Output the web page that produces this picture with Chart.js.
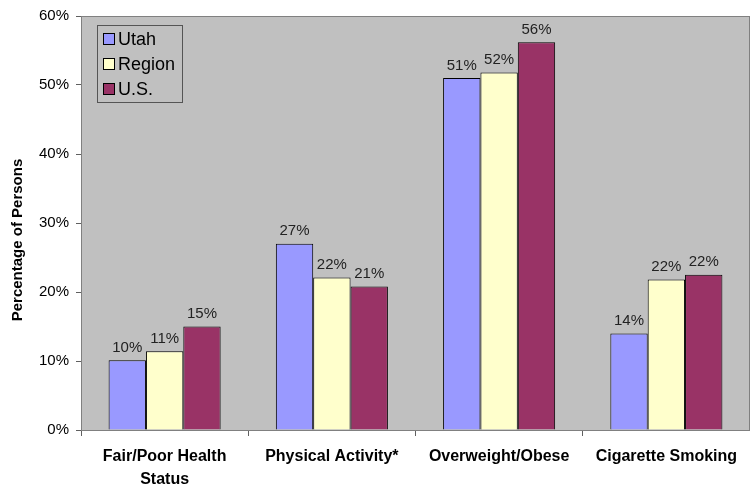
<!DOCTYPE html>
<html>
<head>
<meta charset="utf-8">
<script src="https://cdn.jsdelivr.net/npm/chart.js@4.4.1/dist/chart.umd.min.js"></script>
<style>
  html, body { margin: 0; padding: 0; background: #fff; }
  #wrap { width: 750px; height: 484px; position: relative; }
</style>
</head>
<body>
<div id="wrap"><canvas id="healthChart"></canvas></div>
<script>
// categories and values
const categories = [['Fair/Poor Health', 'Status'], 'Physical Activity*', 'Overweight/Obese', 'Cigarette Smoking'];
const utah = [10.1, 27.0, 51.0, 14.0];
const region = [11.4, 22.1, 51.8, 21.8];
const us = [15.0, 20.8, 56.2, 22.5];
const utahLabels = ['10%', '27%', '51%', '14%'];
const regionLabels = ['11%', '22%', '52%', '22%'];
const usLabels = ['15%', '21%', '56%', '22%'];
const yTicks = [0, 10, 20, 30, 40, 50, 60];
const yTitle = 'Percentage of Persons';

const FONT = 'Liberation Sans, Arial, sans-serif';

// gray plot background + frame
const plotBg = {
  id: 'plotBg',
  beforeDraw(chart) {
    const { ctx, chartArea: a } = chart;
    ctx.save();
    ctx.fillStyle = '#c0c0c0';
    ctx.fillRect(a.left, a.top, a.right - a.left, a.bottom - a.top);
    ctx.strokeStyle = '#808080';
    ctx.lineWidth = 1;
    ctx.strokeRect(a.left + 0.5, a.top + 0.5, a.right - a.left - 1, a.bottom - a.top);
    ctx.restore();
  }
};

// y axis title, sits a bit below the plot middle like the original
const sideTitle = {
  id: 'sideTitle',
  afterDraw(chart) {
    const { ctx, chartArea: a } = chart;
    ctx.save();
    ctx.translate(18, (a.top + a.bottom) / 2 + 17);
    ctx.rotate(-Math.PI / 2);
    ctx.font = 'bold 15px ' + FONT;
    ctx.fillStyle = '#000';
    ctx.textAlign = 'center';
    ctx.textBaseline = 'middle';
    ctx.fillText(yTitle, 0, 0);
    ctx.restore();
  }
};

// value labels above bars
const barLabels = {
  id: 'barLabels',
  afterDatasetsDraw(chart) {
    const { ctx } = chart;
    ctx.save();
    ctx.font = '15px ' + FONT;
    ctx.fillStyle = '#222';
    ctx.textAlign = 'center';
    ctx.textBaseline = 'bottom';
    chart.data.datasets.forEach((ds, i) => {
      chart.getDatasetMeta(i).data.forEach((bar, j) => {
        ctx.fillText(ds.valueLabels[j], bar.x, bar.y - 5);
      });
    });
    ctx.restore();
  }
};

// boxed legend inside the plot, top-left
const boxLegend = {
  id: 'boxLegend',
  afterDraw(chart) {
    const { ctx, chartArea: a } = chart;
    const x = a.left + 16, y = a.top + 9, w = 85, h = 77;
    ctx.save();
    ctx.fillStyle = '#c0c0c0';
    ctx.fillRect(x, y, w, h);
    ctx.strokeStyle = '#555';
    ctx.lineWidth = 1;
    ctx.strokeRect(x + 0.5, y + 0.5, w, h);
    ctx.font = '18px ' + FONT;
    ctx.textBaseline = 'middle';
    chart.data.datasets.forEach((ds, i) => {
      const cy = y + 14 + i * 25;
      ctx.fillStyle = ds.backgroundColor;
      ctx.fillRect(x + 6.5, cy - 5.5, 11, 11);
      ctx.strokeStyle = '#000';
      ctx.strokeRect(x + 6.5, cy - 5.5, 11, 11);
      ctx.fillStyle = '#000';
      ctx.fillText(ds.label, x + 21, cy + 1);
    });
    ctx.restore();
  }
};

const mkSet = (label, data, color, lbls) => ({
  label, data, valueLabels: lbls,
  backgroundColor: color,
  borderColor: '#000',
  borderWidth: 1,
  categoryPercentage: 0.67,
  barPercentage: 1.0
});

new Chart(document.getElementById('healthChart'), {
  type: 'bar',
  data: {
    labels: categories,
    datasets: [
      mkSet('Utah', utah, '#9999ff', utahLabels),
      mkSet('Region', region, '#ffffcc', regionLabels),
      mkSet('U.S.', us, '#993366', usLabels)
    ]
  },
  options: {
    responsive: true,
    maintainAspectRatio: false,
    animation: false,
    layout: { padding: { top: 15, right: 0, left: 0, bottom: 0 } },
    plugins: {
      legend: { display: false },
      tooltip: { enabled: false }
    },
    scales: {
      x: {
        offset: true,
        grid: {
          offset: true,
          drawOnChartArea: false,
          drawTicks: true,
          tickLength: 6,
          color: '#606060'
        },
        border: { color: '#808080' },
        ticks: {
          color: '#000',
          font: { family: FONT, size: 16, weight: 'bold', lineHeight: 1.45 },
          padding: 9,
          maxRotation: 0,
          autoSkip: false
        },
        afterFit(scale) { scale.height = 54; }
      },
      y: {
        min: 0,
        max: 60,
        afterBuildTicks(scale) { scale.ticks = yTicks.map(v => ({ value: v })); },
        grid: {
          drawOnChartArea: false,
          drawTicks: true,
          tickLength: 5,
          color: '#606060'
        },
        border: { color: '#808080' },
        ticks: {
          color: '#000',
          font: { family: FONT, size: 15 },
          padding: 7,
          callback: v => v + '%'
        },
        afterFit(scale) { scale.width = 81; }
      }
    }
  },
  plugins: [plotBg, sideTitle, barLabels, boxLegend]
});
</script>
</body>
</html>
